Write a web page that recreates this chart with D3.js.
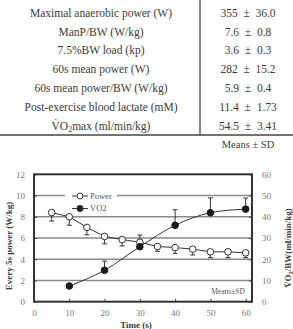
<!DOCTYPE html>
<html>
<head>
<meta charset="utf-8">
<script src="https://cdn.jsdelivr.net/npm/d3@7"></script>
<style>
  body { margin: 0; background: #fff; }
  svg { display: block; }
</style>
</head>
<body>
<svg id="chart" width="293" height="329" font-family="Liberation Serif"></svg>
<script>
// table rows
var rowLabels = ["Maximal anaerobic power (W)", "ManP/BW (W/kg)", "7.5%BW load (kp)",
  "60s mean power (W)", "60s mean power/BW (W/kg)", "Post-exercise blood lactate (mM)", "VO2max (ml/min/kg)"]
var rowMeans = ["355", "7.6", "3.6", "282", "5.9", "11.4", "54.5"]
var rowSDs = ["36.0", "0.8", "0.3", "15.2", "0.4", "1.73", "3.41"]

// chart series
var powerTime = [5, 10, 15, 20, 25, 30, 35, 40, 45, 50, 55, 60]
var power = [8.4, 8.0, 7.0, 6.15, 5.85, 5.6, 5.2, 5.1, 4.95, 4.7, 4.7, 4.6]
var powerSD = [0.8, 0.8, 0.7, 0.7, 0.6, 0.6, 0.45, 0.55, 0.55, 0.55, 0.55, 0.45]
var vo2Time = [10, 20, 30, 40, 50, 60]
var vo2 = [7.4, 14.8, 25.9, 36.0, 41.9, 43.6]
var vo2SD = [0, 4.3, 5.5, 7.3, 7.0, 5.2]

var xTicks = [0, 10, 20, 30, 40, 50, 60]
var leftTicks = [0, 2, 4, 6, 8, 10, 12]
var rightTicks = [0, 10, 20, 30, 40, 50, 60]

main()

function main() {
  var svg = d3.select("#chart")
  var TEXT = "#3a3a3a"
  var SERIF = "Liberation Serif"

  // ---- table ----
  var ROW_TOP = 12.7
  var ROW_H = 18.8
  var table = svg.append("g")

  rowLabels.forEach(function(lab, i) {
    var y = ROW_TOP + i * ROW_H
    var t = table.append("text")
        .attr("x", 101).attr("y", y)
        .attr("dy", "0.35em")
        .attr("text-anchor", "middle")
        .attr("font-family", SERIF)
        .attr("font-size", 11.5)
        .attr("fill", TEXT)
    if (lab.indexOf("VO2") === 0) {
      t.append("tspan").text("V\u0307O")
      t.append("tspan").attr("font-size", 8).attr("dy", 2).text("2")
      t.append("tspan").attr("dy", -2).text("max (ml/min/kg)")
    } else {
      t.text(lab)
    }
    table.append("text")
        .attr("x", 248).attr("y", y)
        .attr("dy", "0.35em")
        .attr("text-anchor", "middle")
        .attr("font-family", SERIF)
        .attr("font-size", 11.5)
        .attr("fill", TEXT)
        .attr("xml:space", "preserve")
        .text(rowMeans[i] + "  \u00b1  " + rowSDs[i])
  })

  table.append("line")
      .attr("x1", 200).attr("x2", 200).attr("y1", 0).attr("y2", 135)
      .attr("stroke", "#444").attr("stroke-width", 1.3)
  table.append("line")
      .attr("x1", 0).attr("x2", 293).attr("y1", 135).attr("y2", 135)
      .attr("stroke", "#444").attr("stroke-width", 1.3)
  table.append("text")
      .attr("x", 248).attr("y", 144)
      .attr("dy", "0.35em")
      .attr("text-anchor", "middle")
      .attr("font-family", SERIF)
      .attr("font-size", 10.5)
      .attr("fill", TEXT)
      .text("Means \u00b1 SD")

  // ---- chart ----
  var LEFT = 34, RIGHT = 252, TOP = 174.3, BOTTOM = 301.7

  var x = d3.scaleLinear().domain([0, 61.8]).range([LEFT, RIGHT])
  var yL = d3.scaleLinear().domain([0, 12]).range([BOTTOM, TOP])
  var yR = d3.scaleLinear().domain([0, 60]).range([BOTTOM, TOP])

  var chart = svg.append("g").attr("font-family", SERIF)

  // gridlines
  chart.append("g").selectAll("line")
      .data(leftTicks.filter(function(d) { return d > 0 && d < 12 }))
      .enter().append("line")
      .attr("x1", LEFT).attr("x2", RIGHT)
      .attr("y1", function(d) { return yL(d) }).attr("y2", function(d) { return yL(d) })
      .attr("stroke", "#8a8a8a").attr("stroke-width", 1.6)

  // axes: inward ticks
  var bottomAxis = chart.append("g")
      .attr("transform", "translate(0," + BOTTOM + ")")
      .call(d3.axisBottom(x).tickValues(xTicks).tickSizeInner(-3).tickSizeOuter(0).tickPadding(8))
  var leftAxis = chart.append("g")
      .attr("transform", "translate(" + LEFT + ",0)")
      .call(d3.axisLeft(yL).tickValues(leftTicks).tickSizeInner(-3).tickSizeOuter(0).tickPadding(9))
  var rightAxis = chart.append("g")
      .attr("transform", "translate(" + RIGHT + ",0)")
      .call(d3.axisRight(yR).tickValues(rightTicks).tickSizeInner(-3).tickSizeOuter(0).tickPadding(10))

  ;[bottomAxis, leftAxis, rightAxis].forEach(function(a) {
    a.attr("font-family", SERIF)
    a.select(".domain").remove()
    a.selectAll(".tick line").attr("stroke", "#444")
    a.selectAll(".tick text")
        .attr("font-size", 9)
        .attr("fill", "#777")
  })
  leftAxis.selectAll(".tick text").attr("text-anchor", "end")
  rightAxis.selectAll(".tick text").attr("text-anchor", "start")

  // frame
  chart.append("rect")
      .attr("x", LEFT).attr("y", TOP)
      .attr("width", RIGHT - LEFT).attr("height", BOTTOM - TOP)
      .attr("fill", "none").attr("stroke", "#333").attr("stroke-width", 2)

  // legend (white box breaks the 10 gridline)
  var legend = chart.append("g")
  legend.append("rect")
      .attr("x", 65).attr("y", 190).attr("width", 52).attr("height", 25)
      .attr("fill", "#fff")
  legend.append("line").attr("x1", 72).attr("x2", 88).attr("y1", 196).attr("y2", 196)
      .attr("stroke", "#333").attr("stroke-width", 1)
  legend.append("circle").attr("cx", 80).attr("cy", 196).attr("r", 3)
      .attr("fill", "#fff").attr("stroke", "#333").attr("stroke-width", 1)
  legend.append("text").attr("x", 90).attr("y", 196).attr("dy", "0.35em")
      .attr("font-size", 8.5).attr("fill", "#555").text("Power")
  legend.append("line").attr("x1", 72).attr("x2", 88).attr("y1", 208.5).attr("y2", 208.5)
      .attr("stroke", "#333").attr("stroke-width", 1)
  legend.append("circle").attr("cx", 80).attr("cy", 208.5).attr("r", 3)
      .attr("fill", "#222").attr("stroke", "#222")
  legend.append("text").attr("x", 90).attr("y", 208.5).attr("dy", "0.35em")
      .attr("font-size", 8.5).attr("fill", "#555")
      .text("V\u0307O2")

  // error bars
  function errorBars(g, xs, ys, sds, scale, dir) {
    var eg = g.append("g")
    xs.forEach(function(t, i) {
      if (!sds[i]) return
      var y0 = scale(ys[i])
      var y1 = scale(ys[i] + dir * sds[i])
      eg.append("line").attr("x1", x(t)).attr("x2", x(t)).attr("y1", y0).attr("y2", y1)
          .attr("stroke", "#333").attr("stroke-width", 1)
      eg.append("line").attr("x1", x(t) - 2.5).attr("x2", x(t) + 2.5).attr("y1", y1).attr("y2", y1)
          .attr("stroke", "#333").attr("stroke-width", 1)
    })
  }
  errorBars(chart, powerTime, power, powerSD, yL, -1)
  errorBars(chart, vo2Time, vo2, vo2SD, yR, 1)

  // lines
  var powerLine = d3.line()
      .x(function(d, i) { return x(powerTime[i]) })
      .y(function(d) { return yL(d) })
  var vo2Line = d3.line()
      .x(function(d, i) { return x(vo2Time[i]) })
      .y(function(d) { return yR(d) })
      .curve(d3.curveMonotoneX)

  chart.append("path").datum(power).attr("d", powerLine)
      .attr("fill", "none").attr("stroke", "#333").attr("stroke-width", 1)
  chart.append("path").datum(vo2).attr("d", vo2Line)
      .attr("fill", "none").attr("stroke", "#333").attr("stroke-width", 1)

  chart.append("g").selectAll("circle").data(power).enter().append("circle")
      .attr("cx", function(d, i) { return x(powerTime[i]) })
      .attr("cy", function(d) { return yL(d) })
      .attr("r", 3.3)
      .attr("fill", "#fff").attr("stroke", "#333").attr("stroke-width", 1)
  chart.append("g").selectAll("circle").data(vo2).enter().append("circle")
      .attr("cx", function(d, i) { return x(vo2Time[i]) })
      .attr("cy", function(d) { return yR(d) })
      .attr("r", 3.3)
      .attr("fill", "#1a1a1a").attr("stroke", "#1a1a1a")

  chart.append("text")
      .attr("x", 228).attr("y", 291.5).attr("dy", "0.35em")
      .attr("text-anchor", "middle")
      .attr("font-size", 7.5).attr("fill", "#555")
      .text("Means\u00b1SD")

  // axis titles
  chart.append("text")
      .attr("transform", "translate(9,246) rotate(-90)")
      .attr("text-anchor", "middle")
      .attr("dy", "0.35em")
      .attr("font-size", 9).attr("font-weight", "bold").attr("fill", TEXT)
      .text("Every 5s power (W/kg)")

  var rt = chart.append("text")
      .attr("transform", "translate(288,248) rotate(-90)")
      .attr("text-anchor", "middle")
      .attr("dy", "0.35em")
      .attr("font-size", 9).attr("font-weight", "bold").attr("fill", TEXT)
  rt.append("tspan").text("V\u0307O")
  rt.append("tspan").attr("font-size", 6.5).attr("dy", 1.5).text("2")
  rt.append("tspan").attr("dy", -1.5).text("/BW(ml/min/kg)")

  chart.append("text")
      .attr("x", 136).attr("y", 325)
      .attr("text-anchor", "middle")
      .attr("dy", "0.35em")
      .attr("font-size", 9).attr("font-weight", "bold").attr("fill", TEXT)
      .text("Time (s)")
}
</script>
</body>
</html>
